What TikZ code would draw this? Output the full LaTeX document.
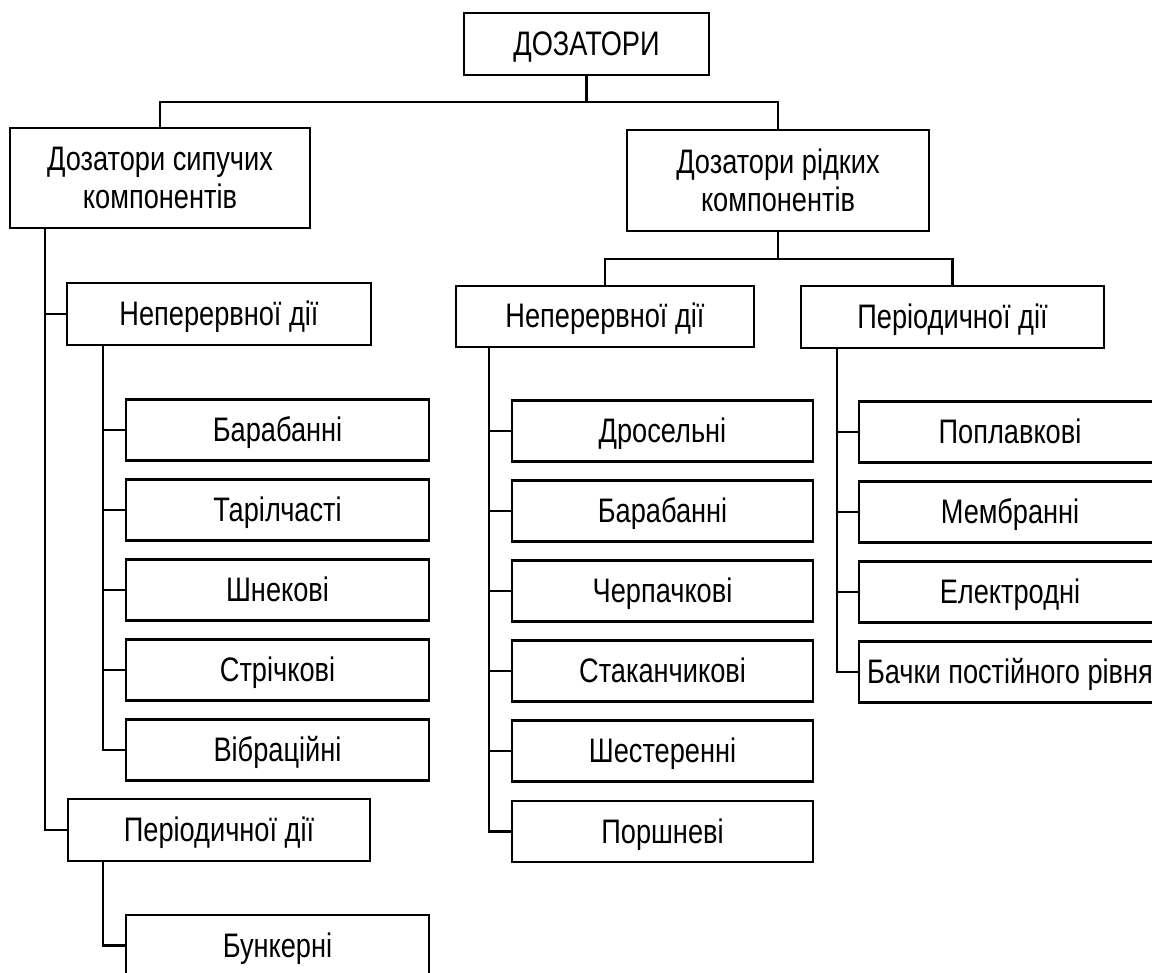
\documentclass[tikz,border=0pt]{standalone}
\usepackage{fontspec}
\setmainfont{Liberation Sans}[FakeStretch=0.8]
\begin{document}
\begin{tikzpicture}[x=1pt,y=-1pt,
  box/.style={draw, line width=2.5pt, rectangle, inner sep=0pt, align=center,
    font=\fontsize{34}{38}\selectfont},
  one/.style={box, text height=24pt, text depth=1pt},
  sub/.style={one, minimum width=303pt, minimum height=61pt},
  link/.style={line width=2.5pt}]
\useasboundingbox (0,0) rectangle (1152,973);
\clip (0,0) rectangle (1152,973);
% top
\node[one, minimum width=245pt, minimum height=62pt] (doz) at (586.5,44) {ДОЗАТОРИ};
\node[box, minimum width=300pt, minimum height=100pt] (sip) at (160,178) {Дозатори сипучих\\компонентів};
\node[box, minimum width=302pt, minimum height=101pt] (rid) at (778,180.5) {Дозатори рідких\\компонентів};
\coordinate (j0) at (586.5,102);
\coordinate (j1) at (778,259);
\draw[link] (doz.south) -- (j0);
\draw[link] (sip.north) |- (j0) -| (rid.north);
% left branch
\node[one, minimum width=304pt, minimum height=62pt] (nl) at (219,314) {Неперервної дії};
\node[sub] (lb1) at (277.5,430) {Барабанні};
\node[sub] (lb2) at (277.5,510) {Тарілчасті};
\node[sub] (lb3) at (277.5,590) {Шнекові};
\node[sub] (lb4) at (277.5,670) {Стрічкові};
\node[sub] (lb5) at (277.5,750) {Вібраційні};
\node[one, minimum width=302pt, minimum height=62pt] (pl) at (219,830) {Періодичної дії};
\node[sub] (bunk) at (277.5,945.5) {Бункерні};
\draw[link] ([xshift=36pt]sip.south west) |- (nl.west);
\draw[link] ([xshift=36pt]sip.south west) |- (pl.west);
\foreach \n in {lb1,lb2,lb3,lb4,lb5}
  \draw[link] ([xshift=37pt]nl.south west) |- (\n.west);
\draw[link] ([xshift=36pt]pl.south west) |- (bunk.west);
% right branch
\node[one, minimum width=298pt, minimum height=61pt] (nr) at (605,316.5) {Неперервної дії};
\node[one, minimum width=303pt, minimum height=62pt] (pr) at (952.5,317) {Періодичної дії};
\draw[link] (rid.south) -- (j1);
\draw[link] (nr.north) |- (j1) -| (pr.north);
\node[sub, minimum width=301pt] (r1) at (662.5,431) {Дросельні};
\node[sub, minimum width=301pt] (r2) at (662.5,511) {Барабанні};
\node[sub, minimum width=301pt] (r3) at (662.5,591) {Черпачкові};
\node[sub, minimum width=301pt] (r4) at (662.5,671) {Стаканчикові};
\node[sub, minimum width=301pt] (r5) at (662.5,751) {Шестеренні};
\node[sub, minimum width=301pt] (r6) at (662.5,831.5) {Поршневі};
\foreach \n in {r1,r2,r3,r4,r5,r6}
  \draw[link] ([xshift=34pt]nr.south west) |- (\n.west);
\node[sub, minimum width=302pt] (q1) at (1010,432) {Поплавкові};
\node[sub, minimum width=302pt] (q2) at (1010,512) {Мембранні};
\node[sub, minimum width=302pt] (q3) at (1010,592) {Електродні};
\node[sub, minimum width=302pt] (q4) at (1010,672) {Бачки постійного рівня};
\foreach \n in {q1,q2,q3,q4}
  \draw[link] ([xshift=37pt]pr.south west) |- (\n.west);
\end{tikzpicture}
\end{document}
